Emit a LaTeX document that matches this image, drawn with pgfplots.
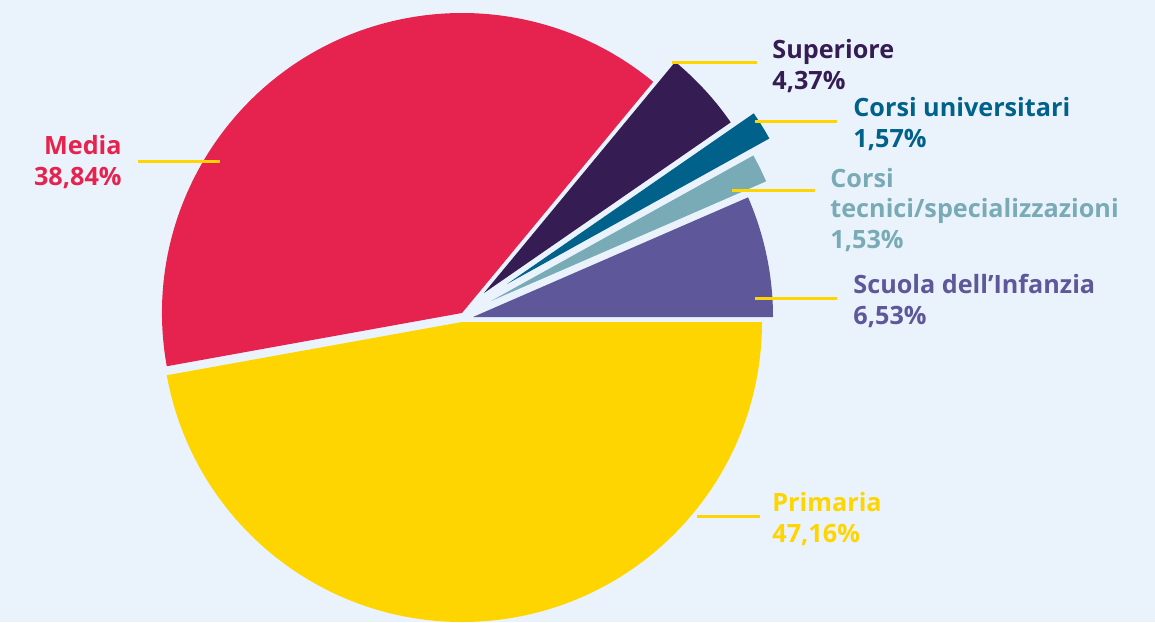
\documentclass[border=0pt]{standalone}
\usepackage{pgfplots}
\pgfplotsset{compat=1.18}
\usepackage{fontspec}
\setmainfont{Open Sans}

\definecolor{bg}{HTML}{EAF3FB}
\definecolor{cPrim}{HTML}{FFD500}
\definecolor{cMedia}{HTML}{E6234F}
\definecolor{cSup}{HTML}{351D53}
\definecolor{cUni}{HTML}{00618A}
\definecolor{cTec}{HTML}{78ABB6}
\definecolor{cInf}{HTML}{5E5799}

% shares (%), clockwise from 3 o'clock
\def\vPrim{47.16}
\def\vMedia{38.84}
\def\vSup{4.37}
\def\vUni{1.57}
\def\vTec{1.53}
\def\vInf{6.53}

\pgfmathsetmacro\aA{0}
\pgfmathsetmacro\aB{\aA-3.6*\vPrim}
\pgfmathsetmacro\aC{\aB-3.6*\vMedia}
\pgfmathsetmacro\aD{\aC-3.6*\vSup}
\pgfmathsetmacro\aE{\aD-3.6*\vUni}
\pgfmathsetmacro\aF{\aE-3.6*\vTec}
\pgfmathsetmacro\aG{\aF-3.6*\vInf}

% slice: colour, apex x, apex y, start angle, end angle
\newcommand\slice[5]{%
  \fill[#1] (axis cs:#2,#3) -- ++(#4:150pt) arc[start angle=#4, end angle=#5, radius=150pt] -- cycle;}

\begin{document}
\begin{tikzpicture}
\begin{axis}[
  x=0.5pt, y=0.5pt,
  xmin=0, xmax=1155, ymin=0, ymax=622,
  axis lines=none, ticks=none,
  clip=true,
]
\fill[bg] (axis cs:0,0) rectangle (axis cs:1155,622);

\slice{cPrim}{462}{300}{\aA}{\aB}
\slice{cMedia}{462}{309}{\aB}{\aC}
\slice{cSup}{484}{329}{\aC}{\aD}
\slice{cUni}{507}{338}{\aD}{\aE}
\slice{cTec}{491}{321}{\aE}{\aF}
\slice{cInf}{473}{305}{\aF}{\aG}

% leader lines
\begin{scope}[cPrim, line width=1.5pt]
\draw (axis cs:138,460) -- (axis cs:220,460);
\draw (axis cs:672,559) -- (axis cs:757,559);
\draw (axis cs:755,500) -- (axis cs:837,500);
\draw (axis cs:732,431) -- (axis cs:815,431);
\draw (axis cs:755,324) -- (axis cs:837,324);
\draw (axis cs:697,106) -- (axis cs:760,106);
\end{scope}

\begin{scope}[every node/.style={inner sep=0pt, font=\fontsize{12.6}{15.2}\selectfont\bfseries}]
\node[cMedia, anchor=east, align=right] at (axis cs:122,460) {Media\\38,84\%};
\node[cSup, anchor=west, align=left] at (axis cs:772,556) {Superiore\\4,37\%};
\node[cUni, anchor=west, align=left] at (axis cs:853,498) {Corsi universitari\\1,57\%};
\node[cTec, anchor=west, align=left] at (axis cs:830,412) {Corsi\\tecnici/specializzazioni\\1,53\%};
\node[cInf, anchor=west, align=left] at (axis cs:853,321) {Scuola dell’Infanzia\\6,53\%};
\node[cPrim, anchor=west, align=left] at (axis cs:772,103) {Primaria\\47,16\%};
\end{scope}
\end{axis}
\end{tikzpicture}
\end{document}
